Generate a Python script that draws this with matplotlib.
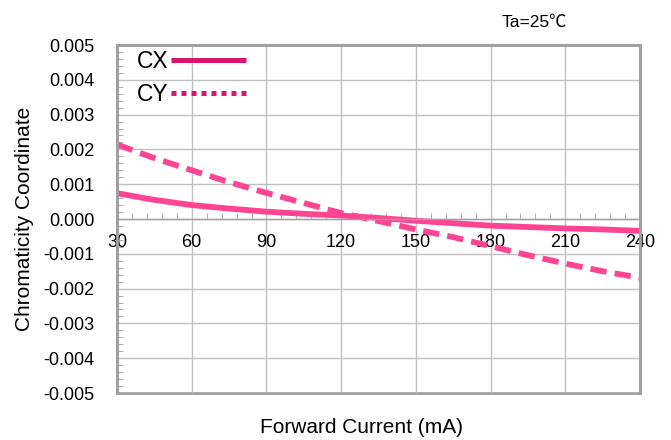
import matplotlib
matplotlib.use('Agg')
import matplotlib.pyplot as plt
from matplotlib.lines import Line2D
from matplotlib.ticker import MultipleLocator, FormatStrFormatter

plt.rcParams['font.family'] = ['Liberation Sans', 'Noto Sans CJK SC', 'DejaVu Sans']
plt.rcParams['axes.unicode_minus'] = False

# forward current (mA) and chromaticity shift
current = [30, 45, 60, 75, 90, 105, 120, 135, 150, 165, 180, 195, 210, 225, 240]
cx = [0.00074, 0.00055, 0.00040, 0.00030, 0.00021, 0.00015, 0.00010, 0.00003,
      -0.00005, -0.00012, -0.00019, -0.00023, -0.00027, -0.00030, -0.00034]
cy = [0.00214, 0.00175, 0.00140, 0.00106, 0.00075, 0.00046, 0.00017, -0.00006,
      -0.00030, -0.00052, -0.00078, -0.00104, -0.00128, -0.00150, -0.00169]

line_color = '#FF4592'
legend_color = '#D4166F'
frame_color = '#A0A0A0'
grid_color = '#C0C0C0'

fig = plt.figure(figsize=(6.71, 4.40), dpi=100)
ax = fig.add_axes([0.1744, 0.1068, 0.7794, 0.7909])

ax.plot(current, cx, color=line_color, lw=4.2, solid_capstyle='butt')
ax.plot(current, cy, color=line_color, lw=4.2, dashes=(2.8, 1.4), dash_capstyle='butt')

ax.set_xlim(30, 240)
ax.set_ylim(-0.005, 0.005)
ax.xaxis.set_major_locator(MultipleLocator(30))
ax.xaxis.set_minor_locator(MultipleLocator(6))
ax.yaxis.set_major_locator(MultipleLocator(0.001))
ax.yaxis.set_minor_locator(MultipleLocator(0.0002))
ax.yaxis.set_major_formatter(FormatStrFormatter('%.3f'))

ax.grid(True, which='major', color=grid_color, lw=1)
ax.set_axisbelow(True)

# x axis drawn along y = 0, frame drawn by the axes patch
ax.spines['bottom'].set_position(('data', 0))
ax.spines['bottom'].set_color(frame_color)
ax.spines['bottom'].set_linewidth(1)
for s in ['left', 'right', 'top']:
    ax.spines[s].set_color(frame_color)
    ax.spines[s].set_linewidth(2)
ax.patch.set_edgecolor(frame_color)
ax.patch.set_linewidth(2)

ax.tick_params(axis='x', which='both', direction='in', colors=frame_color,
               labelcolor='black', labelsize=13, pad=11)
ax.tick_params(axis='x', which='major', length=0)
ax.tick_params(axis='x', which='minor', length=4)
ax.tick_params(axis='y', which='both', direction='in', colors=frame_color,
               labelcolor='black', labelsize=13, pad=16)
ax.tick_params(axis='y', which='major', length=0)
ax.tick_params(axis='y', which='minor', length=4)

ax.set_xlabel('Forward Current (mA)', fontsize=15)
ax.xaxis.set_label_coords(0.467, -0.072)
ax.set_ylabel('Chromaticity Coordinate', fontsize=15)
ax.yaxis.set_label_coords(-0.158, 0.5)

handles = [Line2D([], [], color=legend_color, lw=3.6, solid_capstyle='butt'),
           Line2D([], [], color=legend_color, lw=3.6, dashes=(1, 1), dash_capstyle='butt')]
ax.legend(handles, ['CX', 'CY'], loc='upper left', bbox_to_anchor=(0.02, 1.012),
          markerfirst=False, frameon=False, fontsize=16.5, handlelength=3.3,
          handletextpad=0.1, labelspacing=0.42, borderaxespad=0)

fig.text(0.747, 0.95, 'Ta=25\u2103', fontsize=12.5, ha='left', va='center')

fig.savefig('out.png', dpi=100)
